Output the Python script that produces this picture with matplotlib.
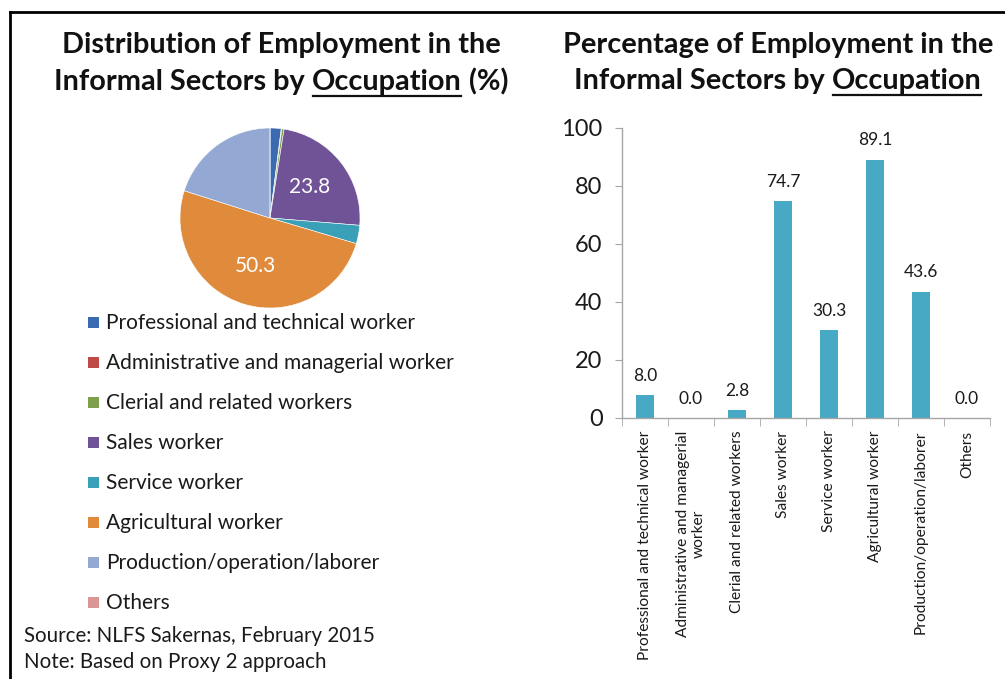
import matplotlib
matplotlib.use('Agg')
import matplotlib.pyplot as plt
from matplotlib.patches import Rectangle
from matplotlib.lines import Line2D
import numpy as np

plt.rcParams['font.family'] = ['Lato', 'DejaVu Sans']

# Occupation groups (pie legend)
occupations = ['Professional and technical worker',
               'Administrative and managerial worker',
               'Clerial and related workers',
               'Sales worker',
               'Service worker',
               'Agricultural worker',
               'Production/operation/laborer',
               'Others']
pie_shares = [2.0, 0.1, 0.4, 23.8, 3.3, 50.3, 20.1, 0.0]
pie_colors = ['#3A6BB0', '#BE4B48', '#7FA04A', '#6F5396',
              '#3AA0B8', '#E08A3C', '#93A9D3', '#D99694']
pie_labelled = [3, 5]

# Share of informal employment within each occupation
bar_labels = ['Professional and technical worker',
              'Administrative and managerial\nworker',
              'Clerial and related workers',
              'Sales worker',
              'Service worker',
              'Agricultural worker',
              'Production/operation/laborer',
              'Others']
bar_values = [8.0, 0.0, 2.8, 74.7, 30.3, 89.1, 43.6, 0.0]
bar_color = '#47A9C4'

W, H = 1005, 679
fig = plt.figure(figsize=(W / 100, H / 100), dpi=100)
fig.patch.set_facecolor('white')


def fx(x):
    return x / W


def fy(y):
    return 1 - y / H


def px_axes(x0, y0, x1, y1):
    return fig.add_axes([fx(x0), fy(y1), (x1 - x0) / W, (y1 - y0) / H])


# frame around the panel
fig.add_artist(Line2D([fx(10), fx(10)], [fy(12), 0], color='black', lw=2))
fig.add_artist(Line2D([fx(10), 1], [fy(12), fy(12)], color='black', lw=2))

renderer = fig.canvas.get_renderer()
TITLE_KW = dict(fontsize=20.8, fontweight='bold', color='#111111')


def title(cx, y1, y2, first, parts, under):
    fig.text(fx(cx), fy(y1), first, ha='center', va='baseline', **TITLE_KW)
    widths = []
    for p in parts:
        t = fig.text(0, 0, p, **TITLE_KW)
        widths.append(t.get_window_extent(renderer).width)
        t.remove()
    x = cx - sum(widths) / 2
    for i, (p, w) in enumerate(zip(parts, widths)):
        fig.text(fx(x), fy(y2), p, ha='left', va='baseline', **TITLE_KW)
        if i == under:
            fig.add_artist(Line2D([fx(x + 1), fx(x + w - 1)], [fy(y2 + 6)] * 2,
                                  color='#111111', lw=1.6))
        x += w


title(281, 53, 90, 'Distribution of Employment in the',
      ['Informal Sectors by ', 'Occupation', ' (%)'], 1)
title(778, 53, 89, 'Percentage of Employment in the',
      ['Informal Sectors by ', 'Occupation'], 1)

# pie chart
ax_pie = px_axes(180, 128, 360, 308)
wedges, _ = ax_pie.pie(pie_shares, colors=pie_colors, startangle=90,
                       counterclock=False,
                       wedgeprops=dict(edgecolor='white', linewidth=0.4))
ax_pie.set_aspect('equal')
ax_pie.set_xlim(-1.0, 1.0)
ax_pie.set_ylim(-1.0, 1.0)
for i in pie_labelled:
    w = wedges[i]
    ang = np.deg2rad((w.theta1 + w.theta2) / 2)
    r = 0.56
    ax_pie.text(r * np.cos(ang), r * np.sin(ang), f'{pie_shares[i]:.1f}',
                ha='center', va='center', color='white', fontsize=15)

# legend, drawn as a column of swatches and labels
for i, (name, col) in enumerate(zip(occupations, pie_colors)):
    yc = 322 + 40 * i
    fig.add_artist(Rectangle((fx(88), fy(yc + 5.5)), 11 / W, 11 / H,
                             facecolor=col, edgecolor='none'))
    fig.text(fx(106), fy(yc + 7), name, ha='left', va='baseline',
             fontsize=15, color='#1a1a1a')

fig.text(fx(24), fy(642), 'Source: NLFS Sakernas, February 2015',
         ha='left', va='baseline', fontsize=14.8, color='#1a1a1a')
fig.text(fx(24), fy(668), 'Note: Based on Proxy 2 approach',
         ha='left', va='baseline', fontsize=14.8, color='#1a1a1a')

# bar chart
ax = px_axes(622, 128, 990, 418)
x = np.arange(len(bar_values))
bars = ax.bar(x, bar_values, width=0.39, color=bar_color)
for xi, v in zip(x, bar_values):
    ax.annotate(f'{v:.1f}', (xi, v), xytext=(0, 8), textcoords='offset points',
                ha='center', va='bottom', fontsize=12.5, color='#1a1a1a')

ax.set_xlim(-0.5, len(bar_values) - 0.5)
ax.set_ylim(0, 100)
ax.set_yticks(range(0, 101, 20))
ax.set_xticks(x)
ax.set_xticklabels(bar_labels, rotation=90, fontsize=11.2, color='#1a1a1a',
                   multialignment='center')
ax.set_xticks(np.arange(-0.5, len(bar_values)), minor=True)
ax.tick_params(axis='x', which='major', length=0, pad=9)
ax.tick_params(axis='x', which='minor', length=6, color='#A6A6A6', direction='out')
ax.tick_params(axis='y', length=5, color='#A6A6A6', labelsize=17,
               labelcolor='#1a1a1a', pad=9)
for s in ['top', 'right']:
    ax.spines[s].set_visible(False)
for s in ['left', 'bottom']:
    ax.spines[s].set_color('#A6A6A6')
    ax.spines[s].set_linewidth(1)

fig.savefig('out.png', dpi=100, facecolor='white')
